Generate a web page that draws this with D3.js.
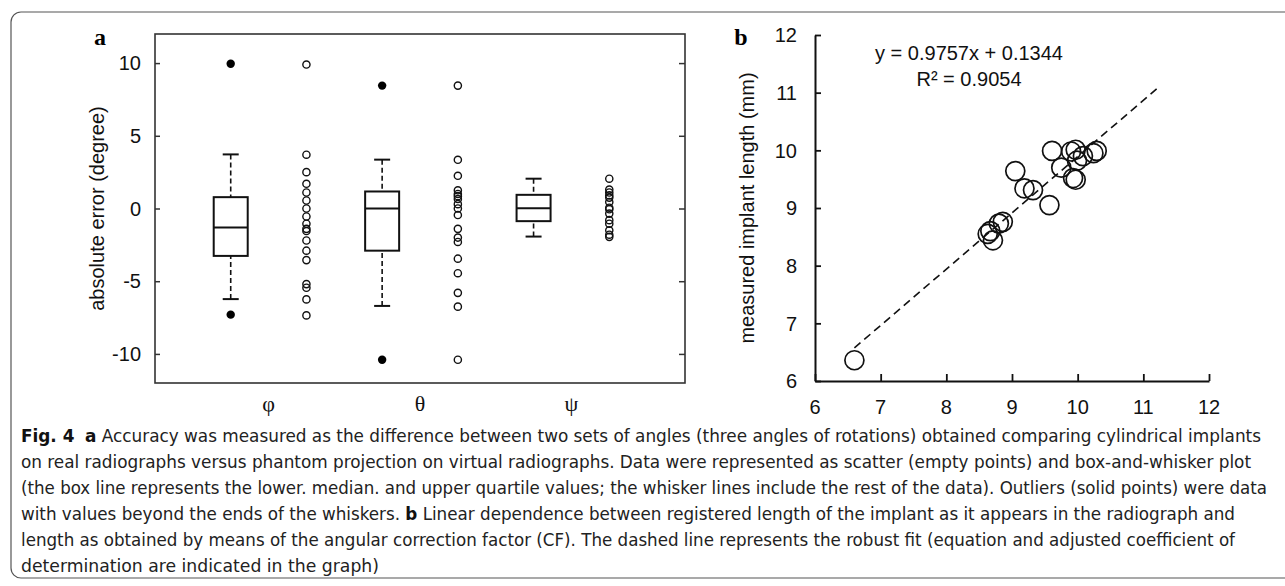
<!DOCTYPE html>
<html>
<head>
<meta charset="utf-8">
<script src="https://cdn.jsdelivr.net/npm/d3@7"></script>
<style>
  body { margin: 0; background: #fff; }
  svg { display: block; }
  .tick-label { font-family: "Liberation Sans", Arial, sans-serif; font-size: 20px; fill: #111; }
  .axis-title { font-family: "Liberation Sans", Arial, sans-serif; font-size: 20px; fill: #111; }
  .panel-letter { font-family: "Liberation Serif", "Times New Roman", serif; font-size: 24px; font-weight: bold; fill: #000; }
  .cat-label { font-family: "Liberation Serif", "Times New Roman", serif; font-size: 22px; fill: #111; }
  .caption { font-family: "Liberation Sans Narrow", "DejaVu Sans Condensed", "Open Sans", sans-serif; font-size: 17px; fill: #222; }
</style>
</head>
<body>
<svg></svg>
<script>
const width = 1285;
const height = 586;

// ---- panel a data ----
const categories = ["φ", "θ", "ψ"];
const phiValues = [9.9, 3.7, 2.5, 1.7, 1.1, 0.55, 0.0, -0.55, -1.05, -1.4, -1.55, -2.2, -2.9, -3.55, -5.2, -5.45, -6.25, -7.35];
const thetaValues = [8.45, 3.35, 2.25, 1.25, 1.0, 0.85, 0.65, 0.3, 0.0, -0.45, -1.4, -2.0, -2.3, -3.45, -4.45, -5.8, -6.75, -10.4];
const psiValues = [2.05, 1.3, 1.1, 0.9, 0.75, 0.45, 0.05, -0.05, -0.35, -0.8, -1.05, -1.5, -1.8, -1.95];
const boxQ1 = [-3.26, -2.9, -0.87];
const boxMedian = [-1.31, 0.0, 0.02];
const boxQ3 = [0.78, 1.17, 0.94];
const whiskerLow = [-6.23, -6.7, -1.93];
const whiskerHigh = [3.72, 3.36, 2.05];
const outliers = [[9.95, -7.3], [8.45, -10.4], []];
const errorTicks = [-10, -5, 0, 5, 10];

// ---- panel b data ----
const computedLength = [6.6, 8.63, 8.67, 8.71, 8.8, 8.86, 9.05, 9.19, 9.32, 9.57, 9.61, 9.75, 9.9, 9.97, 9.99, 10.08, 9.93, 9.97, 10.24, 10.29];
const measuredLength = [6.36, 8.55, 8.6, 8.44, 8.73, 8.76, 9.64, 9.34, 9.31, 9.05, 9.99, 9.7, 9.98, 10.01, 9.82, 9.9, 9.52, 9.49, 9.95, 9.99];
const fitSlope = 0.9757;
const fitIntercept = 0.1344;
const fitRange = [6.6, 11.26];
const lengthTicks = [6, 7, 8, 9, 10, 11, 12];

// ---- caption ----
const captionLines = [
  [["Fig. 4", true], ["  ", false], ["a", true], [" Accuracy was measured as the difference between two sets of angles (three angles of rotations) obtained comparing cylindrical implants", false]],
  [["on real radiographs versus phantom projection on virtual radiographs. Data were represented as scatter (empty points) and box-and-whisker plot", false]],
  [["(the box line represents the lower. median. and upper quartile values; the whisker lines include the rest of the data). Outliers (solid points) were data", false]],
  [["with values beyond the ends of the whiskers. ", false], ["b", true], [" Linear dependence between registered length of the implant as it appears in the radiograph and", false]],
  [["length as obtained by means of the angular correction factor (CF). The dashed line represents the robust fit (equation and adjusted coefficient of", false]],
  [["determination are indicated in the graph)", false]]
];
const captionWidths = [1240, 1230, 1246, 1214, 1214, 358];

const svg = d3.select("svg")
    .attr("width", width)
    .attr("height", height);

// outer figure frame (rounded corner on the left)
svg.append("path")
    .attr("d", "M1285,12 H21 A10,10 0 0 0 11,22 V568 A10,10 0 0 0 21,578 H1285")
    .attr("fill", "none")
    .attr("stroke", "#555")
    .attr("stroke-width", 1.2);

//panel a----------------------------------------//
const a = { left: 155, right: 685, top: 34, bottom: 383 };
const yA = d3.scaleLinear().domain([-12, 12]).range([a.bottom, a.top]);
const slots = d3.range(6);
const xA = d3.scalePoint().domain(slots).range([a.left, a.right]).padding(1);
const groups = [phiValues, thetaValues, psiValues];

const gA = svg.append("g");

gA.append("rect")
    .attr("x", a.left).attr("y", a.top)
    .attr("width", a.right - a.left).attr("height", a.bottom - a.top)
    .attr("fill", "none").attr("stroke", "#333").attr("stroke-width", 1.6);

// left axis with inward ticks
const leftAxis = gA.append("g")
    .attr("transform", `translate(${a.left},0)`)
    .call(d3.axisRight(yA).tickValues(errorTicks).tickSize(5).tickFormat(""));
leftAxis.select(".domain").remove();
leftAxis.selectAll("line").attr("stroke", "#333").attr("stroke-width", 1.5);

const rightAxis = gA.append("g")
    .attr("transform", `translate(${a.right},0)`)
    .call(d3.axisLeft(yA).tickValues(errorTicks).tickSize(6).tickFormat(""));
rightAxis.select(".domain").remove();
rightAxis.selectAll("line").attr("stroke", "#333").attr("stroke-width", 1.5);

gA.selectAll(".ylab")
    .data(errorTicks)
    .enter().append("text")
    .attr("class", "tick-label")
    .attr("x", 141)
    .attr("y", d => yA(d))
    .attr("dy", "0.36em")
    .attr("text-anchor", "end")
    .text(d => d);

gA.append("text")
    .attr("class", "axis-title")
    .attr("transform", `translate(97,${(a.top + a.bottom) / 2}) rotate(-90)`)
    .attr("dy", "0.36em")
    .attr("text-anchor", "middle")
    .text("absolute error (degree)");

gA.append("text")
    .attr("class", "panel-letter")
    .attr("x", 100).attr("y", 45)
    .attr("text-anchor", "middle")
    .text("a");

categories.forEach((cat, i) => {
    const bx = xA(i * 2);
    const sx = xA(i * 2 + 1);
    const boxW = 34, capW = 16;

    // whiskers
    [[whiskerHigh[i], boxQ3[i]], [whiskerLow[i], boxQ1[i]]].forEach(([w, q]) => {
        gA.append("line")
            .attr("x1", bx).attr("x2", bx)
            .attr("y1", yA(w)).attr("y2", yA(q))
            .attr("stroke", "#111").attr("stroke-width", 1.6)
            .attr("stroke-dasharray", "5,3");
        gA.append("line")
            .attr("x1", bx - capW / 2).attr("x2", bx + capW / 2)
            .attr("y1", yA(w)).attr("y2", yA(w))
            .attr("stroke", "#111").attr("stroke-width", 2);
    });

    gA.append("rect")
        .attr("x", bx - boxW / 2).attr("y", yA(boxQ3[i]))
        .attr("width", boxW).attr("height", yA(boxQ1[i]) - yA(boxQ3[i]))
        .attr("fill", "#fff").attr("stroke", "#111").attr("stroke-width", 2);
    gA.append("line")
        .attr("x1", bx - boxW / 2).attr("x2", bx + boxW / 2)
        .attr("y1", yA(boxMedian[i])).attr("y2", yA(boxMedian[i]))
        .attr("stroke", "#111").attr("stroke-width", 2);

    gA.selectAll(null)
        .data(outliers[i])
        .enter().append("circle")
        .attr("cx", bx).attr("cy", d => yA(d))
        .attr("r", 4.2).attr("fill", "#000");

    gA.selectAll(null)
        .data(groups[i])
        .enter().append("circle")
        .attr("cx", sx).attr("cy", d => yA(d))
        .attr("r", 3.6).attr("fill", "none")
        .attr("stroke", "#111").attr("stroke-width", 1.4);

    gA.append("text")
        .attr("class", "cat-label")
        .attr("x", (bx + sx) / 2).attr("y", 403)
        .attr("dy", "0.36em")
        .attr("text-anchor", "middle")
        .text(cat);
});

//panel b----------------------------------------//
const b = { left: 815, right: 1209, top: 35, bottom: 381 };
const xB = d3.scaleLinear().domain([6, 12]).range([b.left, b.right]);
const yB = d3.scaleLinear().domain([6, 12]).range([b.bottom, b.top]);

const gB = svg.append("g");

const xAxisB = gB.append("g")
    .attr("transform", `translate(0,${b.bottom})`)
    .call(d3.axisTop(xB).tickValues(lengthTicks).tickSize(7).tickSizeOuter(0).tickFormat(""));
xAxisB.select(".domain").attr("stroke", "#111").attr("stroke-width", 2);
xAxisB.selectAll("line").attr("stroke", "#111").attr("stroke-width", 1.8);

const yAxisB = gB.append("g")
    .attr("transform", `translate(${b.left},0)`)
    .call(d3.axisRight(yB).tickValues(lengthTicks).tickSize(6).tickSizeOuter(0).tickFormat(""));
yAxisB.select(".domain").attr("stroke", "#111").attr("stroke-width", 2);
yAxisB.selectAll("line").attr("stroke", "#111").attr("stroke-width", 1.8);

gB.selectAll(".xlabB")
    .data(lengthTicks)
    .enter().append("text")
    .attr("class", "tick-label")
    .attr("x", d => xB(d)).attr("y", 407)
    .attr("dy", "0.36em")
    .attr("text-anchor", "middle")
    .text(d => d);

gB.selectAll(".ylabB")
    .data(lengthTicks)
    .enter().append("text")
    .attr("class", "tick-label")
    .attr("x", 797).attr("y", d => yB(d))
    .attr("dy", "0.36em")
    .attr("text-anchor", "end")
    .text(d => d);

gB.append("text")
    .attr("class", "axis-title")
    .attr("transform", `translate(747,${(b.top + b.bottom) / 2}) rotate(-90)`)
    .attr("dy", "0.36em")
    .attr("text-anchor", "middle")
    .text("measured implant length (mm)");

gB.append("text")
    .attr("class", "panel-letter")
    .attr("x", 741).attr("y", 45)
    .attr("text-anchor", "middle")
    .text("b");

gB.append("line")
    .attr("x1", xB(fitRange[0])).attr("y1", yB(fitSlope * fitRange[0] + fitIntercept))
    .attr("x2", xB(fitRange[1])).attr("y2", yB(fitSlope * fitRange[1] + fitIntercept))
    .attr("stroke", "#111").attr("stroke-width", 1.6)
    .attr("stroke-dasharray", "8,5");

gB.selectAll(null)
    .data(computedLength)
    .enter().append("circle")
    .attr("cx", d => xB(d))
    .attr("cy", (d, i) => yB(measuredLength[i]))
    .attr("r", 9.5)
    .attr("fill", "none")
    .attr("stroke", "#111").attr("stroke-width", 1.7);

gB.append("text")
    .attr("class", "axis-title")
    .attr("x", 969).attr("y", 53)
    .attr("dy", "0.36em")
    .attr("text-anchor", "middle")
    .text(`y = ${fitSlope}x + ${fitIntercept}`);

gB.append("text")
    .attr("class", "axis-title")
    .attr("x", 969).attr("y", 79)
    .attr("dy", "0.36em")
    .attr("text-anchor", "middle")
    .text("R² = 0.9054");

//caption----------------------------------------//
captionLines.forEach((parts, i) => {
    const t = svg.append("text")
        .attr("class", "caption")
        .attr("x", 21)
        .attr("y", 442 + i * 26)
        .attr("textLength", captionWidths[i])
        .attr("lengthAdjust", "spacingAndGlyphs")
        .attr("xml:space", "preserve");
    parts.forEach(([txt, bold]) => {
        t.append("tspan")
            .attr("font-weight", bold ? "bold" : "normal")
            .attr("fill", bold ? "#111" : "#222")
            .text(txt);
    });
});
</script>
</body>
</html>
